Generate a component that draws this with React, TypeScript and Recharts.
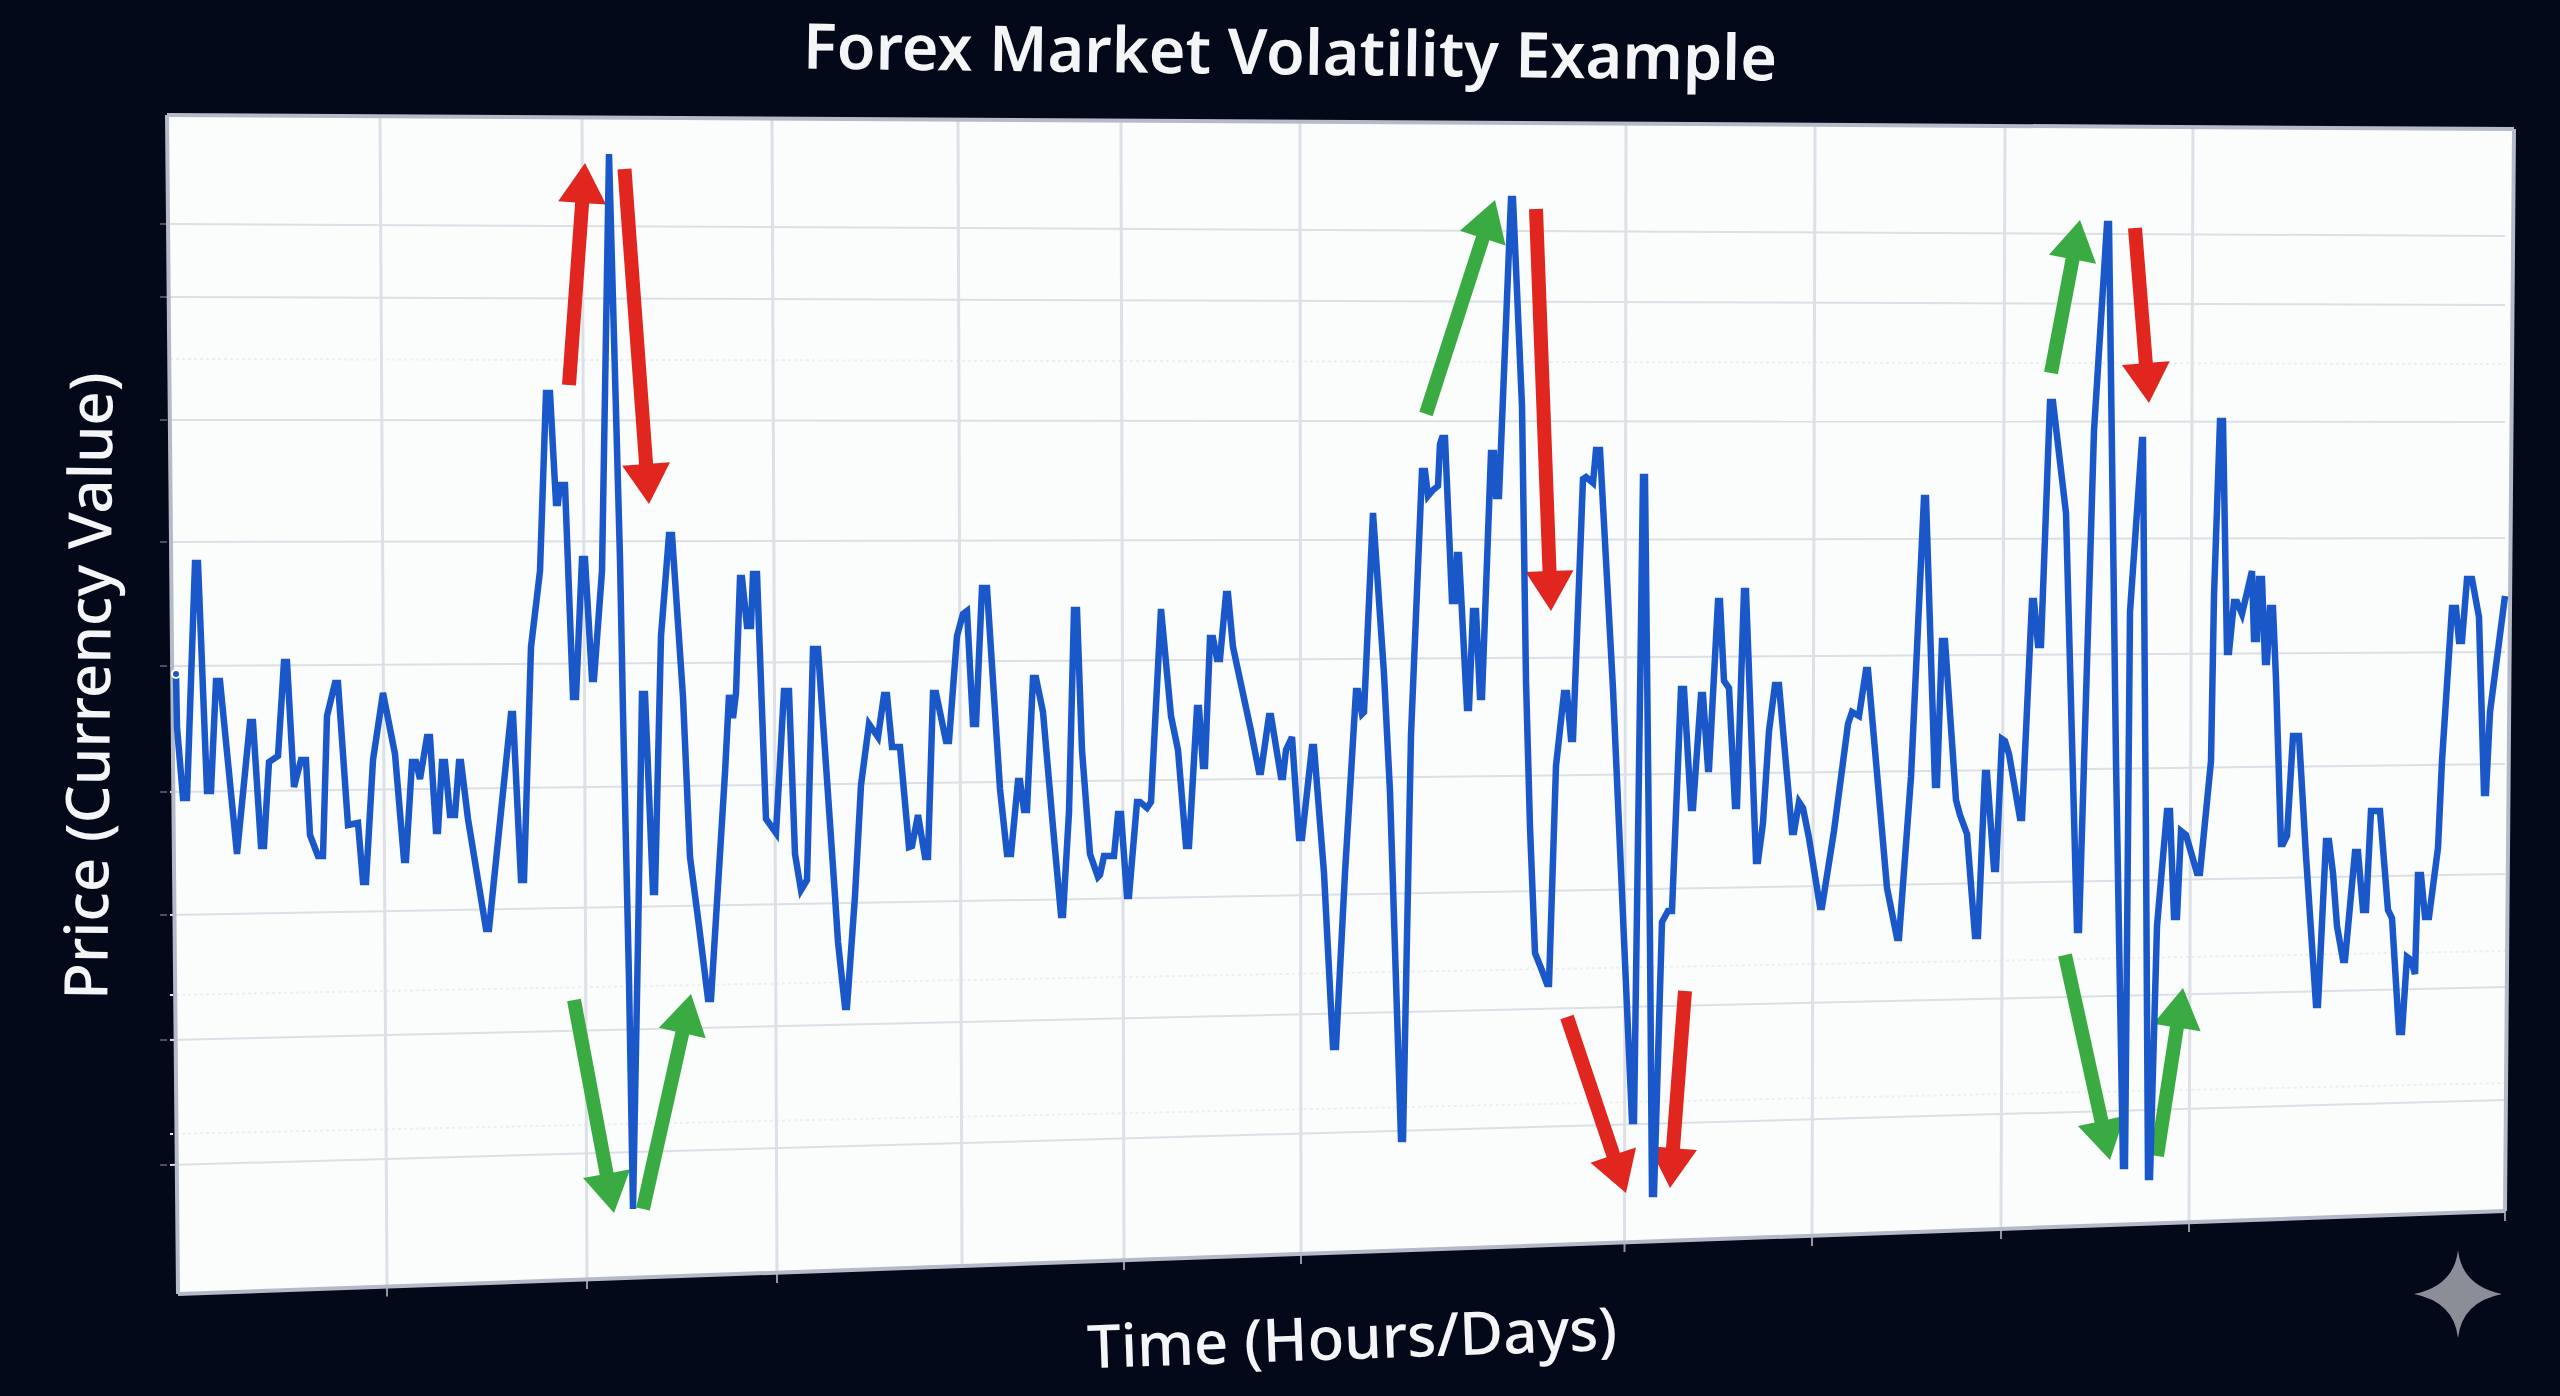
import { LineChart, Line, XAxis, YAxis, ReferenceLine } from 'recharts'

const times = [
  6, 7, 13, 17, 25, 28, 37, 41, 46, 50, 67, 80, 83, 91, 94, 99, 108, 114, 117, 124, 131, 136, 140, 148, 153, 157, 165, 168, 178, 188,
  193, 196, 203, 213, 225, 234, 236, 242, 246, 250, 257, 260, 266, 268, 272, 275, 280, 285, 289, 291, 298, 316, 319, 341, 343, 351, 354, 361, 370, 376,
  380, 386, 388, 390, 395, 403, 406, 412, 415, 422, 424, 432, 439, 450, 453, 459, 463, 468, 472, 475, 483, 485, 491, 499, 502, 513, 520, 529, 538, 541,
  555, 559, 563, 566, 570, 572, 577, 581, 583, 587, 596, 606, 614, 619, 625, 631, 637, 643, 648, 665, 668, 675, 677, 685, 691, 699, 708, 714, 717, 722,
  730, 739, 742, 748, 755, 758, 763, 766, 776, 779, 787, 793, 797, 803, 806, 812, 817, 830, 837, 841, 848, 850, 854, 857, 863, 866, 873, 883, 891, 893,
  899, 904, 907, 912, 920, 928, 930, 934, 944, 948, 951, 957, 959, 967, 970, 977, 981, 991, 1001, 1008, 1016, 1019, 1027, 1029, 1033, 1035, 1040, 1043, 1047, 1050,
  1056, 1058, 1063, 1072, 1081, 1089, 1091, 1099, 1101, 1111, 1113, 1116, 1122, 1129, 1132, 1142, 1144, 1154, 1163, 1166, 1175, 1186, 1188, 1192, 1194, 1203, 1214, 1220, 1231, 1233,
  1241, 1252, 1255, 1258, 1263, 1268, 1270, 1272, 1275, 1282, 1285, 1287, 1289, 1297, 1299, 1303, 1306, 1310, 1312, 1321, 1324, 1326, 1329, 1341, 1343, 1352, 1356, 1360, 1365, 1371,
  1377, 1379, 1386, 1394, 1397, 1401, 1403, 1413, 1416, 1423, 1426, 1430, 1443, 1462, 1464, 1470, 1473, 1475, 1480, 1482, 1484, 1492, 1498, 1502, 1511, 1514, 1521, 1523, 1531, 1533,
  1538, 1539, 1548, 1550, 1554, 1559, 1565, 1567, 1574, 1576, 1586, 1588, 1593, 1599, 1605, 1609, 1622, 1624, 1629, 1633, 1639, 1650, 1652, 1664, 1678, 1682, 1689, 1696, 1698, 1709,
  1717, 1727, 1729, 1741, 1754, 1756, 1765, 1767, 1772, 1775, 1786, 1790, 1797, 1805, 1808, 1815, 1817, 1824, 1826, 1832, 1835, 1839, 1850, 1852, 1862, 1864, 1868, 1871, 1880, 1883,
  1896, 1907, 1909, 1924, 1937, 1939, 1946, 1953, 1955, 1960, 1972, 1973, 1976, 1978, 1980, 1987, 1997, 2000, 2004, 2007, 2011, 2016, 2027, 2030, 2041, 2044, 2050, 2053, 2057, 2059,
  2064, 2067, 2072, 2082, 2084, 2087, 2089, 2092, 2095, 2097, 2100, 2103, 2106, 2111, 2113, 2117, 2123, 2129, 2136, 2146, 2148, 2156, 2159, 2163, 2167, 2173, 2175, 2185, 2188, 2193,
  2196, 2201, 2210, 2218, 2222, 2229, 2232, 2237, 2241, 2245, 2248, 2251, 2255, 2259, 2268, 2272, 2282, 2286, 2289, 2292, 2297, 2302, 2309, 2314, 2316, 2320, 2335,
]

const prices = [
  626, 573, 502, 502, 737, 737, 509, 509, 619, 619, 446, 578, 578, 454, 454, 538, 544, 638, 638, 513, 540, 540, 465, 444, 444, 584, 617, 617, 475, 477,
  418, 418, 540, 607, 546, 440, 440, 538, 538, 521, 563, 563, 469, 469, 538, 538, 485, 485, 538, 538, 481, 371, 371, 586, 586, 420, 420, 653, 729, 907,
  907, 797, 797, 815, 815, 603, 603, 741, 741, 621, 621, 729, 1146, 741, 588, 320, 91, 358, 606, 606, 408, 408, 664, 765, 765, 603, 443, 374, 301, 301,
  527, 605, 582, 607, 722, 722, 674, 674, 726, 726, 481, 467, 609, 609, 446, 410, 420, 651, 651, 404, 358, 293, 293, 404, 515, 576, 563, 605, 605, 553,
  553, 453, 454, 485, 443, 443, 607, 607, 559, 559, 664, 686, 689, 576, 576, 712, 712, 511, 446, 446, 519, 519, 490, 490, 622, 622, 588, 473, 385, 385,
  488, 690, 690, 550, 446, 423, 425, 444, 444, 486, 486, 404, 404, 498, 498, 492, 498, 691, 584, 550, 454, 454, 592, 592, 534, 534, 662, 662, 641, 641,
  706, 706, 653, 611, 569, 528, 528, 584, 584, 523, 523, 550, 563, 462, 462, 553, 553, 427, 253, 253, 427, 609, 609, 586, 588, 787, 626, 508, 161, 161,
  565, 829, 829, 804, 810, 814, 856, 862, 862, 699, 699, 745, 745, 592, 592, 689, 689, 603, 603, 847, 847, 804, 804, 1101, 1101, 894, 619, 473, 347, 332,
  316, 316, 534, 607, 607, 561, 561, 821, 823, 817, 850, 850, 611, 179, 179, 603, 823, 823, 358, 106, 106, 378, 389, 389, 611, 611, 492, 492, 605, 605,
  531, 531, 699, 699, 619, 612, 494, 494, 709, 709, 439, 439, 477, 569, 615, 615, 468, 468, 498, 492, 462, 393, 393, 469, 576, 588, 584, 630, 630, 504,
  412, 362, 362, 523, 802, 802, 515, 515, 659, 659, 500, 485, 466, 364, 364, 527, 527, 431, 431, 561, 559, 546, 482, 482, 699, 699, 655, 655, 898, 898,
  787, 370, 370, 869, 1076, 1076, 539, 134, 134, 688, 860, 860, 456, 123, 123, 374, 489, 489, 383, 383, 469, 465, 427, 427, 539, 704, 879, 879, 648, 648,
  698, 698, 686, 729, 661, 661, 721, 721, 638, 638, 692, 692, 621, 456, 456, 464, 564, 564, 444, 295, 295, 459, 459, 427, 374, 340, 340, 448, 448, 390,
  390, 489, 489, 390, 382, 268, 268, 343, 340, 326, 425, 425, 383, 383, 452, 539, 692, 692, 659, 659, 721, 721, 683, 507, 507, 588, 704,
]

// sloping grid lines: price at the left and right edge of the panel
const gridLeft = [1076, 1003, 880, 758, 634, 508, 385, 260, 135]
const gridRight = [1064, 995, 878, 762, 648, 536, 426, 313, 200]
const faintLeft = [941, 305, 166]
const faintRight = [936, 349, 217]

// vertical grid lines: time at the top and bottom edge
const gridTop = [210, 412, 602, 788, 951, 1130, 1456, 1645, 1835, 2023]
const gridBottom = [217, 417, 607, 792, 954, 1131, 1454.5, 1642, 1831, 2019]
const gridTopPrice = [1184, 1182, 1181, 1180, 1178.5, 1177, 1175, 1174, 1172.5, 1171]
const gridBottomPrice = [13.5, 21, 27, 34, 40, 46, 58, 64, 71, 78]
const tickedBottom = [0, 1, 2, 4, 5, 6, 7, 8, 9]

const arrowFromT = [399, 454.5, 404, 473, 1256, 1366, 1397, 1515, 1881, 1965, 1895, 1987]
const arrowFromP = [915, 1131, 300, 91, 886, 1091, 283, 309, 927, 1072, 345, 144]
const arrowToT = [415, 479, 444, 521, 1325, 1381, 1456, 1500, 1910, 1979, 1940, 2013]
const arrowToP = [1137, 796, 87, 306, 1100, 689, 107, 112, 1080, 897, 140, 312]
const arrowColors = ['#e0261f', '#e0261f', '#39ab42', '#39ab42', '#39ab42', '#e0261f', '#e0261f', '#e0261f', '#39ab42', '#e0261f', '#39ab42', '#39ab42']

// panel corners as [time, price]
const corners = [
  [-3, 1185],
  [2344, 1171],
  [2335, 89],
  [8, 6],
]

const chartData = times.map((t, i) => ({ t, price: prices[i] }))

function Arrow({ x1, y1, x2, y2, color }: any) {
  const len = Math.hypot(x2 - x1, y2 - y1)
  const ux = (x2 - x1) / len
  const uy = (y2 - y1) / len
  const nx = -uy
  const ny = ux
  const bx = x2 - ux * 40
  const by = y2 - uy * 40
  const pts = [
    [x1 + nx * 7, y1 + ny * 7],
    [bx + nx * 7, by + ny * 7],
    [bx + nx * 24, by + ny * 24],
    [x2, y2],
    [bx - nx * 24, by - ny * 24],
    [bx - nx * 7, by - ny * 7],
    [x1 - nx * 7, y1 - ny * 7],
  ]
  return <polygon points={pts.map((p) => p.join(',')).join(' ')} fill={color} />
}

const labelStyle = {
  position: 'absolute',
  color: '#f4f5f7',
  fontFamily: '"Noto Sans", sans-serif',
  fontWeight: 600,
  whiteSpace: 'nowrap',
  transform: 'translate(-50%, -50%)',
} as const

export default function App() {
  const polygon = corners
    .map(([t, p]) => `${t + 170}px ${1300 - p}px`)
    .join(', ')

  return (
    <div style={{ position: 'absolute', left: 0, top: 0, width: 2560, height: 1396, background: '#040919', overflow: 'hidden' }}>
      <div
        style={{
          position: 'absolute',
          inset: 0,
          background: '#fbfcfc',
          clipPath: `polygon(${polygon})`,
        }}
      />
      <div style={{ position: 'absolute', left: 0, top: 0 }}>
        <LineChart width={2560} height={1396} data={chartData} margin={{ top: 0, right: 0, bottom: 0, left: 0 }}>
          <XAxis dataKey="t" type="number" domain={[-170, 2390]} hide />
          <YAxis type="number" domain={[-96, 1300]} hide />
          {gridLeft.map((p, i) => (
            <ReferenceLine
              key={`h${i}`}
              segment={[
                { x: 0, y: p },
                { x: 2335, y: gridRight[i] },
              ]}
              stroke="#dcdfe5"
              strokeWidth={2}
            />
          ))}
          {gridLeft.map((p, i) => (
            <ReferenceLine
              key={`yt${i}`}
              segment={[
                { x: -10, y: p },
                { x: -3, y: p },
              ]}
              stroke="#4a5060"
              strokeWidth={2}
            />
          ))}
          {faintLeft.map((p, i) => (
            <ReferenceLine
              key={`f${i}`}
              segment={[
                { x: 0, y: p },
                { x: 2335, y: faintRight[i] },
              ]}
              stroke="#eceef2"
              strokeWidth={2}
              strokeDasharray="3 3"
            />
          ))}
          {gridTop.map((t, i) => (
            <ReferenceLine
              key={`v${i}`}
              segment={[
                { x: t, y: gridTopPrice[i] },
                { x: gridBottom[i], y: gridBottomPrice[i] },
              ]}
              stroke="#dde0e6"
              strokeWidth={3}
            />
          ))}
          {tickedBottom.map((g) => (
            <ReferenceLine
              key={`xt${g}`}
              segment={[
                { x: gridBottom[g], y: gridBottomPrice[g] },
                { x: gridBottom[g], y: gridBottomPrice[g] - 10 },
              ]}
              stroke="#8e95a6"
              strokeWidth={2}
            />
          ))}
          <ReferenceLine
            segment={[
              { x: 2335, y: 89 },
              { x: 2335, y: 79 },
            ]}
            stroke="#8e95a6"
            strokeWidth={2}
          />
          {corners.map(([t, p], i) => {
            const [t2, p2] = corners[(i + 1) % corners.length]
            return (
              <ReferenceLine
                key={`c${i}`}
                segment={[
                  { x: t, y: p },
                  { x: t2, y: p2 },
                ]}
                stroke="#b4bac8"
                strokeWidth={4}
              />
            )
          })}
          {arrowColors.map((color, i) => (
            <ReferenceLine
              key={`a${i}`}
              segment={[
                { x: arrowFromT[i], y: arrowFromP[i] },
                { x: arrowToT[i], y: arrowToP[i] },
              ]}
              shape={(props: any) => <Arrow {...props} color={color} />}
            />
          ))}
          <Line
            dataKey="price"
            stroke="#1a57c9"
            strokeWidth={6.5}
            dot={false}
            strokeLinejoin="miter"
            isAnimationActive={false}
          />
        </LineChart>
      </div>
      <div style={{ ...labelStyle, left: 1290, top: 50, fontSize: 63, transform: 'translate(-50%, -50%) rotate(0.7deg)' }}>
        Forex Market Volatility Example
      </div>
      <div style={{ ...labelStyle, left: 87, top: 686, fontSize: 60, fontWeight: 500, transform: 'translate(-50%, -50%) rotate(-89.5deg)' }}>
        Price (Currency Value)
      </div>
      <div style={{ ...labelStyle, left: 1352, top: 1336, fontSize: 60, fontWeight: 500, transform: 'translate(-50%, -50%) rotate(-2deg)' }}>
        Time (Hours/Days)
      </div>
      <svg style={{ position: 'absolute', left: 2410, top: 1248 }} width={96} height={92}>
        <path d="M48 2 Q52 38 92 46 Q52 54 48 90 Q44 54 4 46 Q44 38 48 2 Z" fill="#8b8e97" />
      </svg>
    </div>
  )
}
